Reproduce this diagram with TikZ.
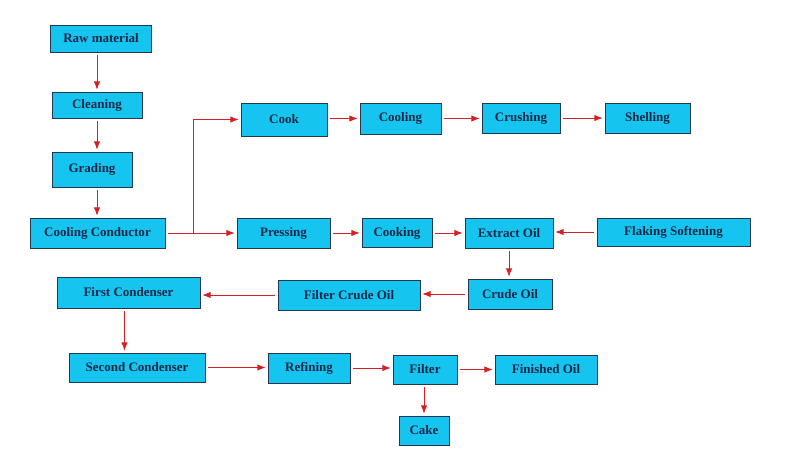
\documentclass[tikz,border=0pt]{standalone}
\usepackage{fontspec}
\setmainfont{Liberation Serif}
\usepackage{tikz}
\usetikzlibrary{arrows.meta, positioning}

\definecolor{boxfill}{RGB}{22,196,240}
\definecolor{boxline}{RGB}{35,55,80}
\definecolor{boxtext}{RGB}{25,40,70}
\definecolor{flowred}{RGB}{215,30,35}

\begin{document}
\begin{tikzpicture}[x=0.02cm, y=-0.02cm,
        proc/.style={rectangle, draw=boxline, fill=boxfill, line width=0.5pt, inner sep=0pt, text=boxtext, font=\fontsize{7.4}{9}\selectfont\bfseries},
        arrow/.style={-{Latex[length=1.7mm,width=1.3mm]}, line width=0.55pt, flowred, shorten >=1pt, shorten <=1.5pt}
    ]
        \useasboundingbox (0,0) rectangle (800,456);

        % first column
        \node[proc, minimum width=2.02cm, minimum height=0.54cm] (raw) at (101,38.5) {Raw material};
        \node[proc, minimum width=1.8cm, minimum height=0.52cm] (cle) at (97,105) {Cleaning};
        \node[proc, minimum width=1.6cm, minimum height=0.7cm] (gra) at (92,169.5) {Grading};

        % top row
        \node[proc, minimum width=1.72cm, minimum height=0.66cm] (cook) at (284,119.5) {Cook};
        \node[proc, minimum width=1.62cm, minimum height=0.62cm] (coo) at (400.5,118.5) {Cooling};
        \node[proc, minimum width=1.56cm, minimum height=0.6cm] (cru) at (521,118) {Crushing};
        \node[proc, minimum width=1.7cm, minimum height=0.6cm] (she) at (647.5,118) {Shelling};

        % middle row
        \node[proc, minimum width=2.7cm, minimum height=0.6cm] (con) at (97.5,233) {Cooling Conductor};
        \node[proc, minimum width=1.86cm, minimum height=0.6cm] (pre) at (283.5,233) {Pressing};
        \node[proc, minimum width=1.4cm, minimum height=0.58cm] (cki) at (397,233) {Cooking};
        \node[proc, minimum width=1.76cm, minimum height=0.6cm] (ext) at (509,233) {Extract Oil};
        \node[proc, minimum width=3.06cm, minimum height=0.56cm] (fla) at (673.5,232) {Flaking Softening};

        % oil row
        \node[proc, minimum width=1.68cm, minimum height=0.6cm] (cru2) at (510,294) {Crude Oil};
        \node[proc, minimum width=2.84cm, minimum height=0.6cm] (fco) at (349,295) {Filter Crude Oil};
        \node[proc, minimum width=2.86cm, minimum height=0.62cm] (fc) at (128.5,292.5) {First Condenser};

        % bottom row
        \node[proc, minimum width=2.72cm, minimum height=0.58cm] (sc) at (137,367.5) {Second Condenser};
        \node[proc, minimum width=1.64cm, minimum height=0.6cm] (ref) at (309,368) {Refining};
        \node[proc, minimum width=1.28cm, minimum height=0.58cm] (fil) at (425,369.5) {Filter};
        \node[proc, minimum width=2.04cm, minimum height=0.58cm] (fin) at (546,369.5) {Finished Oil};
        \node[proc, minimum width=1.0cm, minimum height=0.58cm] (cake) at (424,430.5) {Cake};

        \coordinate (jn) at (193,233);

        \draw[arrow] (raw.south -| cle) -- (cle);
        \draw[arrow] (cle) -- (cle |- gra.north);
        \draw[arrow] (gra.south -| cle) -- (cle |- con.north);
        \draw[arrow] (con) -- (pre);
        \draw[arrow, shorten <=0pt] (jn) |- (cook);
        \draw[arrow] (cook.east |- coo) -- (coo);
        \draw[arrow] (coo) -- (coo -| cru.west);
        \draw[arrow] (cru) -- (cru -| she.west);
        \draw[arrow] (pre) -- (cki);
        \draw[arrow] (cki) -- (cki -| ext.west);
        \draw[arrow] (fla) -- (fla -| ext.east);
        \draw[arrow] (ext) -- (ext |- cru2.north);
        \draw[arrow] (cru2) -- (cru2 -| fco.east);
        \draw[arrow] (fco) -- (fco -| fc.east);
        \draw[arrow] ([xshift=-0.08cm]fc.south) -- ([xshift=-0.08cm]fc.south |- sc.north);
        \draw[arrow] (sc) -- (sc -| ref.west);
        \draw[arrow] (ref) -- (ref -| fil.west);
        \draw[arrow] (fil) -- (fin);
        \draw[arrow] (fil.south -| cake) -- (cake);
    \end{tikzpicture}
\end{document}
